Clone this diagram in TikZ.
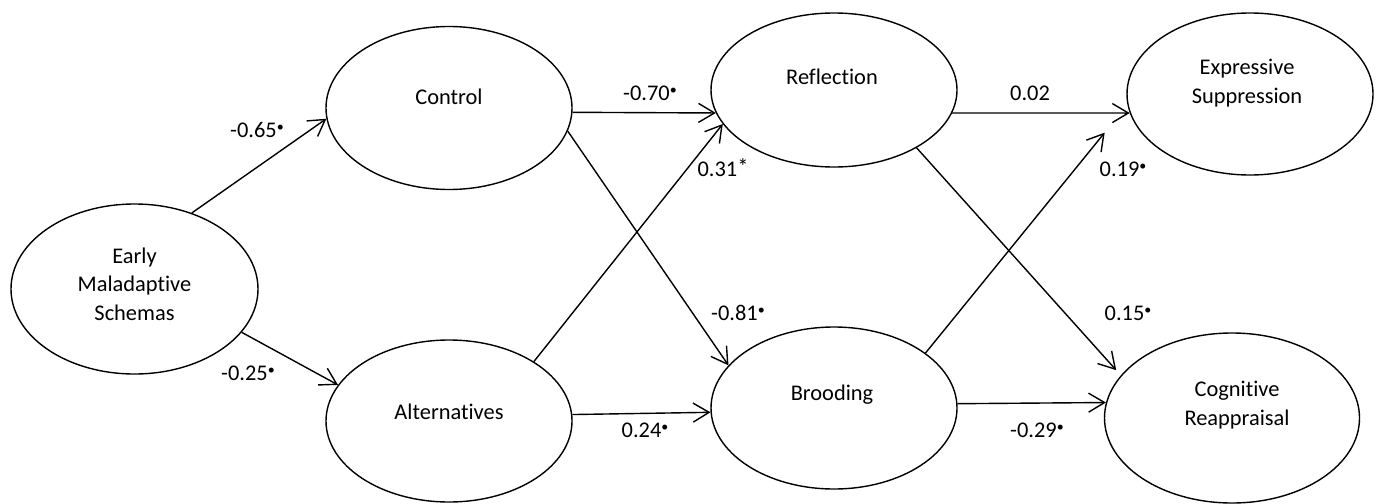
\documentclass[tikz,border=0pt]{standalone}
\usepackage{fontspec}
\setmainfont{Carlito}[Ligatures=NoCommon]
\usetikzlibrary{arrows.meta,shapes.geometric}
% raised dot marking a significant coefficient
\newcommand\sigdot{\raisebox{0.55ex}{\fontsize{7}{7}\selectfont •}}
\begin{document}
\begin{tikzpicture}[x=0.5pt,y=-0.5pt,
  latent/.style={draw, ellipse, line width=0.7pt, inner sep=0pt,
                 minimum width=123pt, minimum height=81pt},
  caption/.style={font=\fontsize{11.2}{14.2}\selectfont, align=center, inner sep=0pt},
  coef/.style={font=\fontsize{11.2}{13}\selectfont, inner sep=0pt},
  link/.style={line width=0.7pt,
               -{Straight Barb[length=8pt,width=9.5pt,line width=0.7pt]}}
]
\useasboundingbox (0,0) rectangle (1379,503);

% latent variables
\node[latent, minimum width=123.5pt, minimum height=85pt] (ems) at (134.5,289) {};
\node[latent, minimum height=81.5pt] (ctrl) at (449,108) {};
\node[latent] (alt) at (449,421) {};
\node[latent, minimum height=77pt] (refl) at (834,90) {};
\node[latent] (brood) at (834,408) {};
\node[latent] (expr) at (1250,94) {};
\node[latent, minimum width=127.5pt, minimum height=85pt] (cog) at (1232,418) {};

% their names
\node[caption] (ems-t) at (134.5,284) {Early\\Maladaptive\\Schemas};
\node[caption] (ctrl-t) at (449,97) {Control};
\node[caption] (alt-t) at (449,412) {Alternatives};
\node[caption] (refl-t) at (832,77) {Reflection};
\node[caption] (brood-t) at (832,395) {Brooding};
\node[caption] (expr-t) at (1247,83) {Expressive\\Suppression};
\node[caption] (cog-t) at (1237,405) {Cognitive\\Reappraisal};

% paths
\draw[link] (ems.53.9) -- (ctrl.185.5);
\draw[link] (ems.-22.9) -- (alt.162.7);
\draw[link] (ctrl.-2.3) -- (refl.191.1);
\draw[link] (ctrl.-11.6) -- (brood.158.9);
\draw[link] (alt.35.6) -- (refl.197.4);
\draw[link] (alt.3.7) -- (brood.182.3);
\draw[link] (refl.-11.1) -- (expr.189.0);
\draw[link, shorten >=3.5pt] (refl.-35.4) -- (cog.159.4);
\draw[link, shorten >=18pt] (brood.31.1) -- (expr.185.5);
\draw[link] (brood.2.3) -- (cog.173.6);

% path coefficients
\node[coef] (c-ems-ctrl) at (257,130) {-0.65\sigdot};
\node[coef] (c-ems-alt) at (248,373) {-0.25\sigdot};
\node[coef] (c-ctrl-refl) at (650,93) {-0.70\sigdot};
\node[coef] (c-alt-refl) at (723,168) {0.31\raisebox{0.2ex}{*}};
\node[coef] (c-ctrl-brood) at (738,313) {-0.81\sigdot};
\node[coef] (c-alt-brood) at (645,430) {0.24\sigdot};
\node[coef] (c-refl-expr) at (1030,93) {0.02};
\node[coef] (c-brood-expr) at (1123,169) {0.19\sigdot};
\node[coef] (c-refl-cog) at (1128,313) {0.15\sigdot};
\node[coef] (c-brood-cog) at (1037,430) {-0.29\sigdot};
\end{tikzpicture}
\end{document}
